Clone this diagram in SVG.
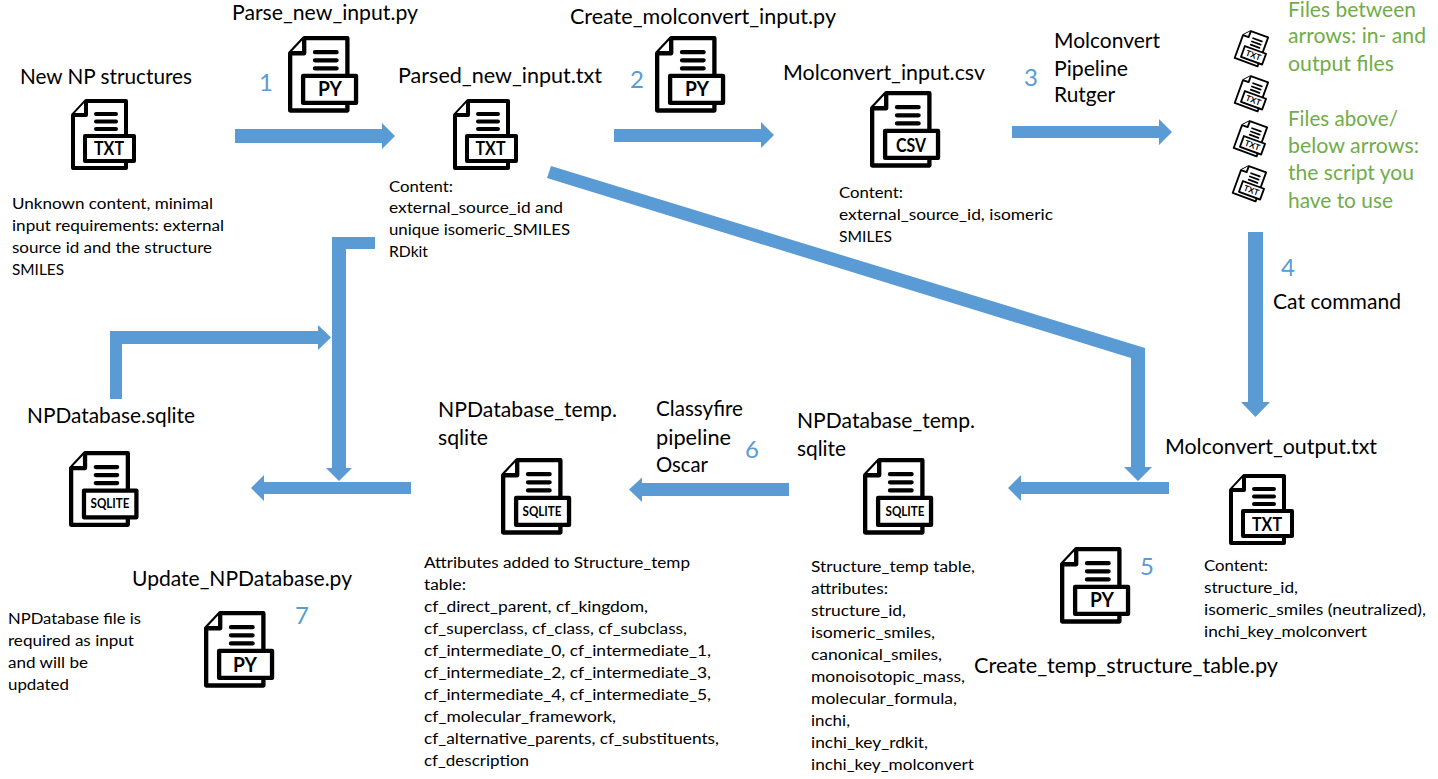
<svg xmlns="http://www.w3.org/2000/svg" xmlns:xlink="http://www.w3.org/1999/xlink" width="1438" height="779" viewBox="0 0 1438 779">
<style>
text{font-family:"Lato","Liberation Sans",sans-serif;fill:#000}
.h{font-size:21.5px}
.b{font-size:15.6px}
.n{font-size:24px;fill:#5b9bd5}
.g{font-size:21.5px;fill:#70ad47}
.l{font-size:18px;font-weight:700;text-anchor:middle}
.p{font-size:20px}
.s{font-size:13.500px}
.arrow{fill:#5b9bd5}
.ic{fill:#fff;stroke:#000;stroke-width:4;stroke-linejoin:round}
.ln{stroke:#000;stroke-width:4;stroke-linecap:round;fill:none}
</style>
<defs>
<g id="doc">
<path class="ic" d="M2,16 L15,2 H55 V69 H2 Z"/>
<path class="ic" d="M15,2 V16 H2"/>
<path class="ln" d="M25,15 H45 M25,22.500 H45 M25,30 H45"/>
<rect class="ic" x="14" y="37" width="49" height="25"/>
</g>
</defs>
<rect width="1438" height="779" fill="#fff"/>
<g id="connectors">
<polygon class="arrow" points="235,129 382,129 382,123 395,136 382,149 382,143 235,143"/>
<polygon class="arrow" points="614,129 761,129 761,122 774,135 761,148 761,142 614,142"/>
<polygon class="arrow" points="1012,126 1159,126 1159,119 1172,132 1159,145 1159,138 1012,138"/>
<polygon class="arrow" points="1248,232 1263,232 1263,402 1270,402 1255.500,417 1241,402 1248,402"/>
<polygon class="arrow" points="551,166 1145,348 1145,467 1152,467 1138,481 1124,467 1131,467 1131,358 547,178"/>
<polygon class="arrow" points="1169,482 1021,482 1021,475 1008,488 1021,501 1021,494 1169,494"/>
<polygon class="arrow" points="789,483 642,483 642,477.500 629,489.500 642,502 642,496 789,496"/>
<polygon class="arrow" points="411,482 264,482 264,475 251,488 264,501 264,494 411,494"/>
<polygon class="arrow" points="375,237 332,237 332,468 326,468 339,481 352,468 346,468 346,249 375,249"/>
<polygon class="arrow" points="110,399 122,399 122,344 318,344 318,350 331,337.500 318,325 318,331 110,331"/>
</g>
<g id="node-new-np"><text class="h" x="20" y="84" textLength="172" lengthAdjust="spacingAndGlyphs">New NP structures</text><use xlink:href="#doc" href="#doc" x="71" y="99"/><text class="l" x="109" y="155" textLength="30" lengthAdjust="spacingAndGlyphs">TXT</text>
<text class="b" x="12" y="209" textLength="201" lengthAdjust="spacingAndGlyphs">Unknown content, minimal</text><text class="b" x="12" y="231" textLength="212" lengthAdjust="spacingAndGlyphs">input requirements: external</text><text class="b" x="12" y="253" textLength="200" lengthAdjust="spacingAndGlyphs">source id and the structure</text><text class="b" x="12" y="275" textLength="52" lengthAdjust="spacingAndGlyphs">SMILES</text></g>
<g id="node-parse-script"><text class="h" x="232" y="20" textLength="186" lengthAdjust="spacingAndGlyphs">Parse_new_input.py</text><use xlink:href="#doc" href="#doc" transform="translate(288,36) scale(1.08)"/><text class="l p" x="330" y="96" textLength="24" lengthAdjust="spacingAndGlyphs">PY</text><text class="n" x="259" y="91">1</text></g>
<g id="node-parsed"><text class="h" x="398" y="83" textLength="204" lengthAdjust="spacingAndGlyphs">Parsed_new_input.txt</text><use xlink:href="#doc" href="#doc" x="453" y="99"/><text class="l" x="490.500" y="155" textLength="30" lengthAdjust="spacingAndGlyphs">TXT</text>
<text class="b" x="389" y="192" textLength="64" lengthAdjust="spacingAndGlyphs">Content:</text><text class="b" x="389" y="213" textLength="174" lengthAdjust="spacingAndGlyphs">external_source_id and</text><text class="b" x="389" y="235" textLength="181" lengthAdjust="spacingAndGlyphs">unique isomeric_SMILES</text><text class="b" x="389" y="257" textLength="39" lengthAdjust="spacingAndGlyphs">RDkit</text></g>
<g id="node-create-script"><text class="h" x="570" y="24" textLength="266" lengthAdjust="spacingAndGlyphs">Create_molconvert_input.py</text><use xlink:href="#doc" href="#doc" transform="translate(655,36) scale(1.08)"/><text class="l p" x="697" y="96" textLength="24" lengthAdjust="spacingAndGlyphs">PY</text><text class="n" x="630" y="88">2</text></g>
<g id="node-molconvert-input"><text class="h" x="783" y="80" textLength="202" lengthAdjust="spacingAndGlyphs">Molconvert_input.csv</text><use xlink:href="#doc" href="#doc" transform="translate(870,91) scale(1.08)"/><text class="l" x="911" y="152" textLength="30" lengthAdjust="spacingAndGlyphs">CSV</text>
<text class="b" x="839" y="198" textLength="64" lengthAdjust="spacingAndGlyphs">Content:</text><text class="b" x="839" y="220" textLength="214" lengthAdjust="spacingAndGlyphs">external_source_id, isomeric</text><text class="b" x="839" y="242" textLength="53" lengthAdjust="spacingAndGlyphs">SMILES</text></g>
<g id="node-pipeline"><text class="h" x="1054" y="48" textLength="106" lengthAdjust="spacingAndGlyphs">Molconvert</text><text class="h" x="1054" y="76" textLength="74" lengthAdjust="spacingAndGlyphs">Pipeline</text><text class="h" x="1054" y="102" textLength="61" lengthAdjust="spacingAndGlyphs">Rutger</text><text class="n" x="1024" y="86">3</text></g>
<g id="legend">
<g transform="translate(1253,48) rotate(20) scale(.46) translate(-32,-35)"><use xlink:href="#doc" href="#doc"/><text class="l" x="38" y="56">TXT</text></g>
<g transform="translate(1253,93) rotate(20) scale(.46) translate(-32,-35)"><use xlink:href="#doc" href="#doc"/><text class="l" x="38" y="56">TXT</text></g>
<g transform="translate(1252,138) rotate(20) scale(.46) translate(-32,-35)"><use xlink:href="#doc" href="#doc"/><text class="l" x="38" y="56">TXT</text></g>
<g transform="translate(1251,183) rotate(20) scale(.46) translate(-32,-35)"><use xlink:href="#doc" href="#doc"/><text class="l" x="38" y="56">TXT</text></g>
<text class="g" x="1288" y="17" textLength="128" lengthAdjust="spacingAndGlyphs">Files between</text><text class="g" x="1288" y="43" textLength="138" lengthAdjust="spacingAndGlyphs">arrows: in- and</text><text class="g" x="1288" y="71" textLength="106" lengthAdjust="spacingAndGlyphs">output files</text>
<text class="g" x="1288" y="126" textLength="110" lengthAdjust="spacingAndGlyphs">Files above/</text><text class="g" x="1288" y="153" textLength="131" lengthAdjust="spacingAndGlyphs">below arrows:</text><text class="g" x="1288" y="180" textLength="126" lengthAdjust="spacingAndGlyphs">the script you</text><text class="g" x="1288" y="208" textLength="105" lengthAdjust="spacingAndGlyphs">have to use</text></g>
<g id="node-cat"><text class="n" x="1281" y="276">4</text><text class="h" x="1273" y="309" textLength="128" lengthAdjust="spacingAndGlyphs">Cat command</text></g>
<g id="node-molconvert-output"><text class="h" x="1165" y="454" textLength="212" lengthAdjust="spacingAndGlyphs">Molconvert_output.txt</text><use xlink:href="#doc" href="#doc" transform="translate(1229,474)"/><text class="l" x="1267" y="531" textLength="30" lengthAdjust="spacingAndGlyphs">TXT</text>
<text class="b" x="1204" y="571" textLength="64" lengthAdjust="spacingAndGlyphs">Content:</text><text class="b" x="1204" y="593" textLength="94" lengthAdjust="spacingAndGlyphs">structure_id,</text><text class="b" x="1204" y="615" textLength="222" lengthAdjust="spacingAndGlyphs">isomeric_smiles (neutralized),</text><text class="b" x="1204" y="637" textLength="163" lengthAdjust="spacingAndGlyphs">inchi_key_molconvert</text></g>
<g id="node-create-temp-script"><use xlink:href="#doc" href="#doc" transform="translate(1060,547) scale(1.08)"/><text class="l p" x="1102" y="607" textLength="24" lengthAdjust="spacingAndGlyphs">PY</text><text class="n" x="1140" y="575">5</text><text class="h" x="974" y="673" textLength="304" lengthAdjust="spacingAndGlyphs">Create_temp_structure_table.py</text></g>
<g id="node-temp-2"><text class="h" x="797" y="428" textLength="178" lengthAdjust="spacingAndGlyphs">NPDatabase_temp.</text><text class="h" x="797" y="456" textLength="49" lengthAdjust="spacingAndGlyphs">sqlite</text><use xlink:href="#doc" href="#doc" transform="translate(863,458) scale(1.08)"/><text class="l s" x="905" y="516" textLength="39" lengthAdjust="spacingAndGlyphs">SQLITE</text>
<text class="b" x="811" y="572" textLength="164" lengthAdjust="spacingAndGlyphs">Structure_temp table,</text><text class="b" x="811" y="594" textLength="77" lengthAdjust="spacingAndGlyphs">attributes:</text><text class="b" x="811" y="616" textLength="95" lengthAdjust="spacingAndGlyphs">structure_id,</text><text class="b" x="811" y="638" textLength="124" lengthAdjust="spacingAndGlyphs">isomeric_smiles,</text><text class="b" x="811" y="660" textLength="131" lengthAdjust="spacingAndGlyphs">canonical_smiles,</text><text class="b" x="811" y="682" textLength="154" lengthAdjust="spacingAndGlyphs">monoisotopic_mass,</text><text class="b" x="811" y="704" textLength="146" lengthAdjust="spacingAndGlyphs">molecular_formula,</text><text class="b" x="811" y="726" textLength="39" lengthAdjust="spacingAndGlyphs">inchi,</text><text class="b" x="811" y="748" textLength="117" lengthAdjust="spacingAndGlyphs">inchi_key_rdkit,</text><text class="b" x="811" y="770" textLength="163" lengthAdjust="spacingAndGlyphs">inchi_key_molconvert</text></g>
<g id="node-classyfire"><text class="h" x="656" y="416" textLength="87" lengthAdjust="spacingAndGlyphs">Classyfire</text><text class="h" x="656" y="445" textLength="75" lengthAdjust="spacingAndGlyphs">pipeline</text><text class="h" x="656" y="472" textLength="52" lengthAdjust="spacingAndGlyphs">Oscar</text><text class="n" x="745" y="458">6</text></g>
<g id="node-temp-1"><text class="h" x="438" y="417" textLength="179" lengthAdjust="spacingAndGlyphs">NPDatabase_temp.</text><text class="h" x="438" y="445" textLength="50" lengthAdjust="spacingAndGlyphs">sqlite</text><use xlink:href="#doc" href="#doc" transform="translate(501,458) scale(1.08)"/><text class="l s" x="542" y="516" textLength="39" lengthAdjust="spacingAndGlyphs">SQLITE</text>
<text class="b" x="424" y="568" textLength="266" lengthAdjust="spacingAndGlyphs">Attributes added to Structure_temp</text><text class="b" x="424" y="590" textLength="42" lengthAdjust="spacingAndGlyphs">table:</text><text class="b" x="424" y="612" textLength="224" lengthAdjust="spacingAndGlyphs">cf_direct_parent, cf_kingdom,</text><text class="b" x="424" y="634" textLength="263" lengthAdjust="spacingAndGlyphs">cf_superclass, cf_class, cf_subclass,</text><text class="b" x="424" y="656" textLength="287" lengthAdjust="spacingAndGlyphs">cf_intermediate_0, cf_intermediate_1,</text><text class="b" x="424" y="678" textLength="287" lengthAdjust="spacingAndGlyphs">cf_intermediate_2, cf_intermediate_3,</text><text class="b" x="424" y="700" textLength="287" lengthAdjust="spacingAndGlyphs">cf_intermediate_4, cf_intermediate_5,</text><text class="b" x="424" y="722" textLength="192" lengthAdjust="spacingAndGlyphs">cf_molecular_framework,</text><text class="b" x="424" y="744" textLength="295" lengthAdjust="spacingAndGlyphs">cf_alternative_parents, cf_substituents,</text><text class="b" x="424" y="766" textLength="105" lengthAdjust="spacingAndGlyphs">cf_description</text></g>
<g id="node-npdatabase"><text class="h" x="27" y="423" textLength="168" lengthAdjust="spacingAndGlyphs">NPDatabase.sqlite</text><use xlink:href="#doc" href="#doc" transform="translate(69,451) scale(1.07)"/><text class="l s" x="110" y="508" textLength="39" lengthAdjust="spacingAndGlyphs">SQLITE</text></g>
<g id="node-update-script"><text class="h" x="132" y="586" textLength="220" lengthAdjust="spacingAndGlyphs">Update_NPDatabase.py</text><use xlink:href="#doc" href="#doc" transform="translate(204,611) scale(1.08)"/><text class="l p" x="245" y="672" textLength="24" lengthAdjust="spacingAndGlyphs">PY</text><text class="n" x="295" y="624">7</text>
<text class="b" x="8" y="624" textLength="133" lengthAdjust="spacingAndGlyphs">NPDatabase file is</text><text class="b" x="8" y="646" textLength="126" lengthAdjust="spacingAndGlyphs">required as input</text><text class="b" x="8" y="668" textLength="80" lengthAdjust="spacingAndGlyphs">and will be</text><text class="b" x="8" y="690" textLength="61" lengthAdjust="spacingAndGlyphs">updated</text></g>
</svg>
